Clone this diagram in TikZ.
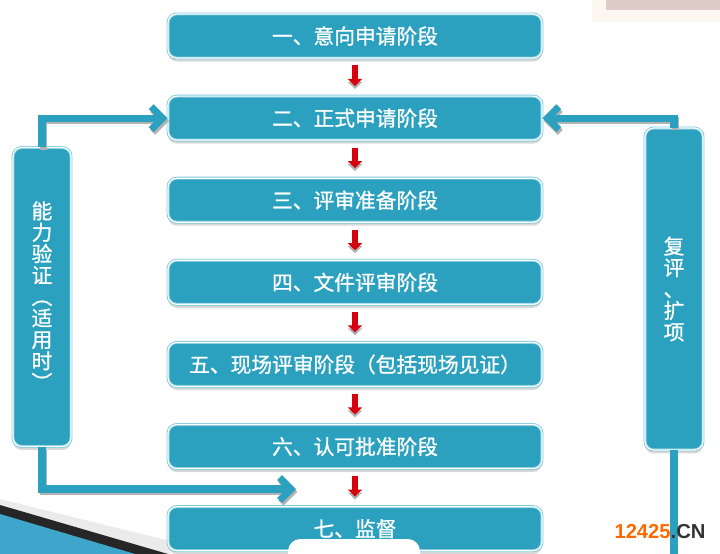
\documentclass[tikz,border=0pt]{standalone}
\usepackage{fontspec}
\setmainfont{Noto Sans CJK SC}[FakeBold=1]
\newfontfamily\markfont{Liberation Sans}
\usepackage{xcolor}
\usepackage{graphicx}
\usetikzlibrary{arrows.meta,positioning,shadows}
\definecolor{boxteal}{HTML}{2BA1BF}
\definecolor{edgeteal}{HTML}{7FCADD}
\definecolor{arrowred}{HTML}{D7000F}
\definecolor{markorange}{HTML}{FF6A00}
\definecolor{photocream}{HTML}{FCF8F1}
\definecolor{photopink}{HTML}{DCCCC5}
\definecolor{cornerblue}{HTML}{3FA6CB}
\newcommand{\vparen}[1]{\rotatebox[origin=c]{-90}{#1}}

\begin{document}
\begin{tikzpicture}[
    x=0.02cm, y=-0.02cm,
    node distance=0.745cm,
    stage/.style={rectangle, rounded corners=5pt, fill=boxteal, draw=edgeteal, line width=0.5pt, double=white, double distance=0.7pt, minimum width=7.48cm, minimum height=0.88cm, text=white, font=\fontsize{11.8}{14}\selectfont, drop shadow={shadow xshift=0pt, shadow yshift=-2pt, fill=black!30}},
    side/.style={stage, minimum width=1.16cm, align=center, font=\fontsize{11.8}{12.2}\selectfont},
    flow/.style={draw=arrowred, line width=3.5pt, -{Triangle[length=4pt,width=8pt]}, shorten <=4pt, shorten >=5.5pt},
    link/.style={draw=boxteal, line width=4pt},
    barb/.style={-{Straight Barb[length=6.5pt,width=13pt]}},
    grey/.style={draw=black!30}
]
\useasboundingbox (0,0) rectangle (720,554);

% background bits of the slide
\fill[photocream] (592,0) rectangle (720,22);
\fill[photopink] (606,0) rectangle (720,10);
\fill[black!8] (0,499) -- (170,541) -- (170,554) -- (0,554) -- cycle;
\fill[black!85] (0,505) -- (168,554) -- (0,554) -- cycle;
\fill[cornerblue] (0,514) -- (135,554) -- (0,554) -- cycle;

% stages
\node[stage] (s1) at (355,36) {一、意向申请阶段};
\node[stage, below=of s1] (s2) {二、正式申请阶段};
\node[stage, below=of s2] (s3) {三、评审准备阶段};
\node[stage, below=of s3] (s4) {四、文件评审阶段};
\node[stage, below=of s4] (s5) {五、现场评审阶段（包括现场见证）};
\node[stage, below=of s5] (s6) {六、认可批准阶段};
\node[stage, below=of s6] (s7) {七、监督};

% side boxes
\node[side, minimum height=5.98cm] (verify) at (42,297) {能\\力\\验\\证\\\vparen{（}\\适\\用\\时\\\vparen{）}};
\node[side, minimum height=6.44cm] (review) at (674,289) {复\\评\\、\\扩\\项};

% red steps, grey shadow first
\foreach \a/\b in {s1/s2,s2/s3,s3/s4,s4/s5,s5/s6,s6/s7} {
  \draw[flow, grey, transform canvas={yshift=-1.7pt}] (\a) -- (\b);
  \draw[flow] (\a) -- (\b);
}

\coordinate (tip) at (296,489);
\coordinate (tail) at (674,560);
\begin{scope}[transform canvas={shift={(0.8pt,-1.6pt)}}]
\draw[link, grey, barb] (verify.north) |- (s2.west);
\draw[link, grey, barb] (verify.south) |- (tip);
\draw[link, grey, barb] (review.north) |- (s2.east);
\end{scope}
\draw[link, barb] (verify.north) |- (s2.west);
\draw[link, barb] (verify.south) |- (tip);
\draw[link, barb] (review.north) |- (s2.east);
\draw[link] (review.south) -- (tail);

% cover and mark at the bottom
\fill[white, rounded corners=7pt] (288,539) rectangle (420,575);
\node[font=\markfont\bfseries\fontsize{11.5}{13}\selectfont, inner sep=0pt] (mark) at (660,532) {\textcolor{markorange}{12425}\textcolor{black!80}{.CN}};
\end{tikzpicture}
\end{document}
